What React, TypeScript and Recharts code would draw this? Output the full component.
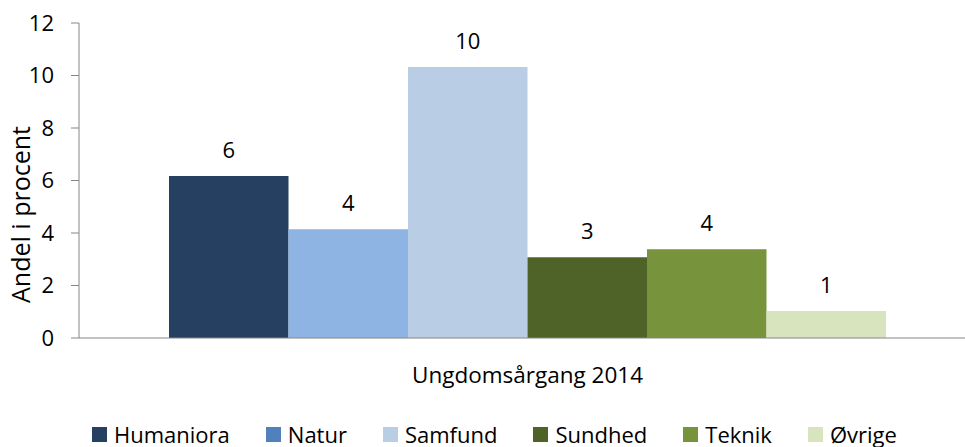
import React from "react";
import { BarChart, Bar, XAxis, YAxis, Legend, LabelList } from "recharts";

const categories = ["Ungdomsårgang 2014"];
const seriesNames = ["Humaniora", "Natur", "Samfund", "Sundhed", "Teknik", "Øvrige"];
const seriesValues = [6.17, 4.14, 10.32, 3.08, 3.38, 1.03];
const seriesLabels = ["6", "4", "10", "3", "4", "1"];
const barColors = ["#254061", "#8EB4E3", "#B9CDE5", "#4F6228", "#77933C", "#D7E4BD"];
const legendColors = ["#254061", "#4F81BD", "#B9CDE5", "#4F6228", "#77933C", "#D7E4BD"];
const yTicks = [0, 2, 4, 6, 8, 10, 12];

const data = categories.map((c) => {
  const row: Record<string, string | number> = { name: c };
  seriesNames.forEach((s, i) => {
    row[s] = seriesValues[i];
  });
  return row;
});

const FONT = "'Open Sans', sans-serif";
const FS = 22;

const LegendContent = () => (
  <div
    style={{
      display: "flex",
      alignItems: "center",
      height: 26,
      paddingLeft: 92,
      fontFamily: FONT,
      fontSize: FS,
      color: "#000",
      whiteSpace: "nowrap",
    }}
  >
    {seriesNames.map((s, i) => (
      <div key={s} style={{ display: "flex", alignItems: "center", marginRight: 36 }}>
        <span
          style={{
            display: "inline-block",
            width: 15,
            height: 15,
            background: legendColors[i],
            marginRight: 7,
          }}
        />
        <span style={{ lineHeight: "26px" }}>{s}</span>
      </div>
    ))}
  </div>
);

const YTitle = () => (
  <text
    x={29.5}
    y={214.5}
    transform="rotate(-90, 29.5, 214.5)"
    textAnchor="middle"
    fontFamily={FONT}
    fontSize={25}
    fill="#000"
  >
    Andel i procent
  </text>
);

export default function App() {
  return (
    <div
      style={{
        position: "absolute",
        left: 0,
        top: 0,
        width: 965,
        height: 447,
        overflow: "hidden",
        background: "#fff",
      }}
    >
      <BarChart
        width={980}
        height={447}
        data={data}
        margin={{ top: 23, right: 4, bottom: 43, left: 0 }}
        barCategoryGap="10%"
        barGap={0}
        barSize={119.5}
      >
        <XAxis
          dataKey="name"
          axisLine={{ stroke: "#868686", strokeWidth: 1 }}
          tickLine={false}
          tickSize={0}
          tickMargin={29}
          height={40}
          tick={{ fontFamily: FONT, fontSize: 22.5, fill: "#000" }}
        />
        <YAxis
          width={79}
          domain={[0, 12]}
          ticks={yTicks}
          interval={0}
          axisLine={{ stroke: "#868686", strokeWidth: 1 }}
          tickLine={{ stroke: "#868686", strokeWidth: 1 }}
          tickSize={8}
          tickMargin={17}
          tick={{ fontFamily: FONT, fontSize: FS, fill: "#000" }}
          label={<YTitle />}
        />
        <Legend
          verticalAlign="bottom"
          content={<LegendContent />}
          wrapperStyle={{ left: 0, top: 421, width: 965, height: 26 }}
        />
        {seriesNames.map((s, i) => (
          <Bar key={s} dataKey={s} fill={barColors[i]} isAnimationActive={false}>
            <LabelList
              dataKey={s}
              position="top"
              offset={18}
              formatter={() => seriesLabels[i]}
              style={{ fontFamily: FONT, fontSize: FS, fill: "#000" }}
            />
          </Bar>
        ))}
      </BarChart>
    </div>
  );
}
